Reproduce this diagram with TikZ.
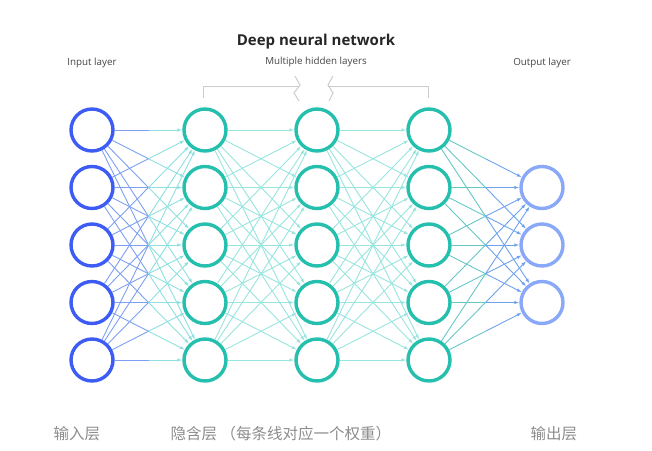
\documentclass[tikz,border=0pt]{standalone}
\usepackage{fontspec}
\setmainfont{Open Sans}
\newfontfamily\cjk{Noto Sans CJK SC}
\usetikzlibrary{arrows.meta,calc}

\definecolor{inblue}{HTML}{3D5CF5}
\definecolor{hidteal}{HTML}{25BFAE}
\definecolor{outblue}{HTML}{8AA8F8}
\definecolor{edgeblue}{HTML}{7EA0F2}
\definecolor{edgecyan}{HTML}{8EE0E0}
\definecolor{edgeteal}{HTML}{98E4DE}
\definecolor{edgemint}{HTML}{66C8C6}
\definecolor{edgesky}{HTML}{6FA2EE}
\definecolor{labelgray}{HTML}{444444}
\definecolor{bracketgray}{HTML}{CCCCCC}
\definecolor{cngray}{HTML}{8C8C8C}

\tikzset{
  neuron/.style={circle, draw, line width=3.4pt, minimum size=42pt, inner sep=0pt, fill=white},
  edge/.style={line width=0.9pt},
  toplabel/.style={font=\fontsize{9.8}{12}\selectfont, text=labelgray},
  cnlabel/.style={font=\cjk\fontsize{15.5}{18}\selectfont, text=cngray, anchor=west},
}

\begin{document}
\begin{tikzpicture}[x=1pt, y=-1pt, >={Latex[length=5pt,width=3.5pt]}]

    \useasboundingbox (0,0) rectangle (652,450);

    % 1. 标题和各层名称
    \node[font=\fontsize{15}{18}\selectfont\bfseries, text=black!85] (title) at (316,42) {Deep neural network};
    \node[toplabel] (inlab)  at (92,63)  {Input layer};
    \node[toplabel] (hidlab) at (316,62) {Multiple hidden layers};
    \node[toplabel] (outlab) at (542,63) {Output layer};

    % 2. 隐含层上方的折断括号
    \draw[bracketgray, line width=1pt] (203,98) -- (203,86) -- (299,86);
    \draw[bracketgray, line width=1pt] (295,76) -- (300,85) -- (294,93) -- (299,101);
    \draw[bracketgray, line width=1pt] (428,98) -- (428,86) -- (328,86);
    \draw[bracketgray, line width=1pt] (333,76) -- (328,85) -- (333,93) -- (329,101);

    % 3. 神经元
    \foreach \i/\y in {1/130,2/187.5,3/245,4/302.5,5/360} {
        \node[neuron, draw=inblue]  (i\i) at (92,\y)  {};
        \node[neuron, draw=hidteal] (a\i) at (205,\y) {};
        \node[neuron, draw=hidteal] (b\i) at (317,\y) {};
        \node[neuron, draw=hidteal] (c\i) at (429,\y) {};
    }
    \foreach \i/\y in {1/187.5,2/245,3/302.5}
        \node[neuron, draw=outblue] (o\i) at (542,\y) {};

    % 4. 连线（每条线对应一个权重）
    \foreach \i in {1,...,5} {
        \foreach \j in {1,...,5} {
            \draw[edge, edgeblue] (i\i) -- ($(i\i)!0.5!(a\j)$);
            \draw[edge, edgecyan, ->] ($(i\i)!0.5!(a\j)$) -- (a\j);
            \draw[edge, edgeteal, ->] (a\i) -- (b\j);
            \draw[edge, edgeteal, ->] (b\i) -- (c\j);
        }
        \foreach \j in {1,2,3} {
            \draw[edge, edgemint] (c\i) -- ($(c\i)!0.5!(o\j)$);
            \draw[edge, edgesky, ->] ($(c\i)!0.5!(o\j)$) -- (o\j);
        }
    }

    % 5. 底部中文说明
    \node[cnlabel] (cnin)  at (50,434)  {输入层};
    \node[cnlabel] (cnhid) at (167,434) {隐含层 （每条线对应一个权重）};
    \node[cnlabel] (cnout) at (527,434) {输出层};

\end{tikzpicture}
\end{document}
